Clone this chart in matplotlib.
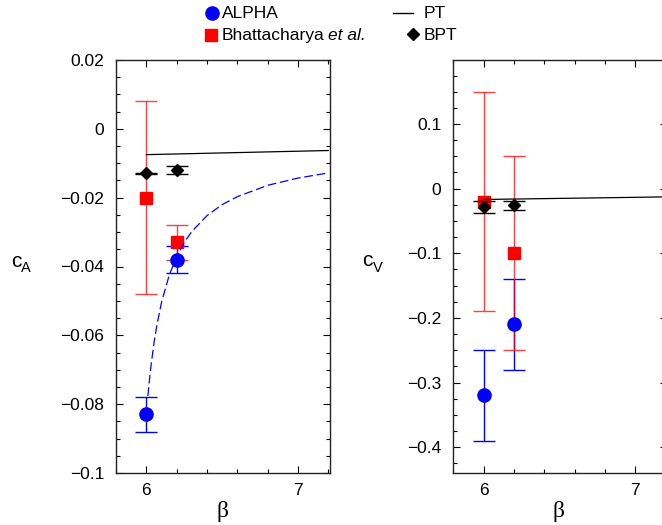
import matplotlib
matplotlib.use("Agg")
import matplotlib.pyplot as plt
from matplotlib.lines import Line2D
from matplotlib.ticker import MultipleLocator, FixedLocator, FixedFormatter

plt.rcParams['font.family'] = ['Liberation Sans', 'DejaVu Sans']

# ---------------- data ----------------
beta = [6.0, 6.2]

# c_A panel
cA_alpha = [-0.083, -0.038]
cA_alpha_err = [0.005, 0.004]
cA_bhatt = [-0.020, -0.033]
cA_bhatt_err = [0.028, 0.005]
cA_bpt = [-0.0129, -0.0120]
cA_bpt_err = [0.0002, 0.0012]
cA_pt_beta = [6.0, 7.2]
cA_pt = [-0.0075, -0.0063]
cA_fit_beta = [6.01, 6.02, 6.03, 6.05, 6.07, 6.1, 6.15, 6.2, 6.25, 6.3,
               6.4, 6.5, 6.6, 6.8, 7.0, 7.2]
cA_fit = [-0.0776, -0.0731, -0.0691, -0.0623, -0.0569, -0.0504, -0.0426,
          -0.0371, -0.0330, -0.0298, -0.0252, -0.0220, -0.0197, -0.0164,
          -0.0143, -0.0128]

# c_V panel
cV_alpha = [-0.32, -0.21]
cV_alpha_err = [0.07, 0.07]
cV_bhatt = [-0.02, -0.10]
cV_bhatt_err = [0.17, 0.15]
cV_bpt = [-0.028, -0.026]
cV_bpt_err = [0.0095, 0.007]
cV_pt_beta = [6.0, 7.2]
cV_pt = [-0.0168, -0.0128]

x_ticks = [6, 7]
x_ticklabels = ['6', '7']
yA_ticks = [0.02, 0.0, -0.02, -0.04, -0.06, -0.08, -0.1]
yA_ticklabels = ['0.02', '0', '\u22120.02', '\u22120.04', '\u22120.06', '\u22120.08', '\u22120.1']
yV_ticks = [0.1, 0.0, -0.1, -0.2, -0.3, -0.4]
yV_ticklabels = ['0.1', '0', '\u22120.1', '\u22120.2', '\u22120.3', '\u22120.4']

W, H = 662, 525
fig = plt.figure(figsize=(W / 100, H / 100), dpi=100)


def fx(x):
    return x / W


def fy(y):
    return 1 - y / H


axL = fig.add_axes([fx(116), 52 / H, 214 / W, 413 / H])
axR = fig.add_axes([fx(453.3), 52 / H, 214 / W, 413 / H])

CAP = 8.0
RED_A = 0.75


def panel(ax, a, ae, b, be, p, pe, ptb, pt):
    ax.errorbar(beta, a, yerr=ae, fmt='none', ecolor='blue', elinewidth=1.0,
                capsize=CAP, capthick=1.0, zorder=2)
    ax.errorbar(beta, b, yerr=be, fmt='none', ecolor='red', elinewidth=1.0,
                capsize=CAP, capthick=1.0, alpha=RED_A, zorder=2.5)
    ax.plot(beta, b, ls='none', marker='s', ms=8, color='red', mec='red', zorder=3)
    ax.plot(beta, a, ls='none', marker='o', ms=9.5, color='blue', mec='blue', zorder=3)
    ax.plot(ptb, pt, color='black', lw=0.9, zorder=4)
    ax.errorbar(beta, p, yerr=pe, fmt='none', ecolor='black', elinewidth=1.0,
                capsize=CAP, capthick=1.0, zorder=5)
    ax.plot(beta, p, ls='none', marker='D', ms=6.5, color='black', zorder=6)


panel(axL, cA_alpha, cA_alpha_err, cA_bhatt, cA_bhatt_err, cA_bpt, cA_bpt_err,
      cA_pt_beta, cA_pt)
axL.plot(cA_fit_beta, cA_fit, color='blue', lw=0.9, dashes=(7, 3), zorder=3.5)

panel(axR, cV_alpha, cV_alpha_err, cV_bhatt, cV_bhatt_err, cV_bpt, cV_bpt_err,
      cV_pt_beta, cV_pt)

axL.set_xlim(5.8, 7.21)
axR.set_xlim(5.8, 7.21)
axL.set_ylim(-0.1, 0.02)
axR.set_ylim(-0.44, 0.199)

for ax in (axL, axR):
    ax.xaxis.set_major_locator(FixedLocator(x_ticks))
    ax.xaxis.set_major_formatter(FixedFormatter(x_ticklabels))
    ax.xaxis.set_minor_locator(MultipleLocator(0.2))
    ax.tick_params(which='both', direction='in', top=True, right=True,
                   width=0.8, labelsize=12.5, colors='black')
    ax.tick_params(which='major', length=5)
    ax.tick_params(which='minor', length=3)
    ax.tick_params(axis='y', pad=8.5)
    ax.tick_params(axis='x', pad=7)
    for s in ax.spines.values():
        s.set_linewidth(1.0)
        s.set_color('#222222')

axL.yaxis.set_major_locator(FixedLocator(yA_ticks))
axL.yaxis.set_major_formatter(FixedFormatter(yA_ticklabels))
axL.yaxis.set_minor_locator(MultipleLocator(0.005))
axR.yaxis.set_major_locator(FixedLocator(yV_ticks))
axR.yaxis.set_major_formatter(FixedFormatter(yV_ticklabels))
axR.yaxis.set_minor_locator(MultipleLocator(0.025))

# axis labels
serif = ['Liberation Serif', 'DejaVu Serif']
fig.text(fx(222), fy(511.5), '\u03b2', family=serif, fontsize=17, ha='center', va='center')
fig.text(fx(559), fy(511.5), '\u03b2', family=serif, fontsize=17, ha='center', va='center')
fig.text(fx(11), fy(267), 'c', fontsize=15, ha='left', va='baseline')
fig.text(fx(21), fy(272), 'A', fontsize=10.5, ha='left', va='baseline')
fig.text(fx(362), fy(266.5), 'c', fontsize=15, ha='left', va='baseline')
fig.text(fx(372.5), fy(272.5), 'V', fontsize=10.5, ha='left', va='baseline')

# legend (manual)
tf = fig.transFigure
fig.add_artist(Line2D([fx(212)], [fy(13)], marker='o', ms=9.5, color='blue', transform=tf))
fig.text(fx(222), fy(18.5), 'ALPHA', fontsize=12.5, va='baseline')
fig.add_artist(Line2D([fx(393), fx(413)], [fy(13), fy(13)], color='black', lw=1, transform=tf))
fig.text(fx(424), fy(18.5), 'PT', fontsize=12.5, va='baseline')
fig.add_artist(Line2D([fx(211.5)], [fy(34.5)], marker='s', ms=8, color='red', transform=tf))
fig.text(fx(222), fy(40), 'Bhattacharya', fontsize=12.5, va='baseline')
fig.text(fx(327.5), fy(40), 'et al.', fontsize=12.5, style='italic', va='baseline')
fig.add_artist(Line2D([fx(413)], [fy(34)], marker='D', ms=6.5, color='black', transform=tf))
fig.text(fx(424), fy(40), 'BPT', fontsize=12.5, va='baseline')

fig.savefig('out.png', dpi=100)
